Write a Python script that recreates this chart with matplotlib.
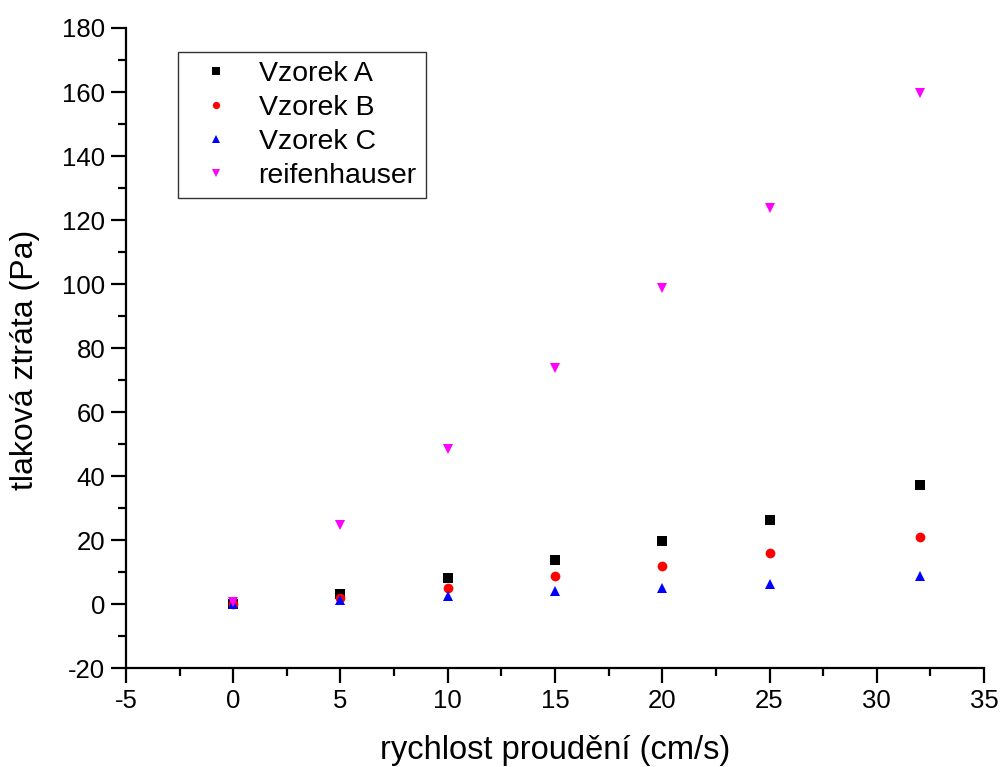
import matplotlib
matplotlib.use("Agg")
import matplotlib.pyplot as plt
from matplotlib.ticker import MultipleLocator

plt.rcParams['font.family'] = ['Liberation Sans', 'DejaVu Sans']
plt.rcParams['axes.unicode_minus'] = False

x = [0, 5, 10, 15, 20, 25, 32]
vzorek_a = [0, 3, 8, 13.7, 19.7, 26.2, 37.2]
vzorek_b = [0, 2, 5, 8.7, 11.9, 15.9, 20.9]
vzorek_c = [0, 1.2, 2.5, 4, 5, 6.2, 8.7]
reifen = [0.5, 24.7, 48.4, 73.7, 98.7, 123.7, 159.7]

series = [
    ("Vzorek A", vzorek_a, "s", "#000000"),
    ("Vzorek B", vzorek_b, "o", "#ff0000"),
    ("Vzorek C", vzorek_c, "^", "#0000ff"),
    ("reifenhauser", reifen, "v", "#ff00ff"),
]

fig = plt.figure(figsize=(10.03, 7.67), dpi=100)
ax = fig.add_axes([0.1256, 0.129, 0.8555, 0.8345])

for label, ys, m, c in series:
    ax.plot(x, ys, linestyle="none", marker=m, color=c, markersize=7,
            markeredgewidth=0, label=label)

ax.set_xlim(-5, 35)
ax.set_ylim(-20, 180)
ax.xaxis.set_major_locator(MultipleLocator(5))
ax.xaxis.set_minor_locator(MultipleLocator(2.5))
ax.yaxis.set_major_locator(MultipleLocator(20))
ax.yaxis.set_minor_locator(MultipleLocator(10))

for s in ("top", "right"):
    ax.spines[s].set_visible(False)
for s in ("left", "bottom"):
    ax.spines[s].set_linewidth(1.6)

ax.tick_params(which="major", direction="out", length=11, width=1.6, labelsize=18.5, pad=4)
ax.tick_params(which="minor", direction="out", length=6, width=1.6)

ax.set_xlabel("rychlost proudění (cm/s)", fontsize=23.5, labelpad=16)
ax.set_ylabel("tlaková ztráta (Pa)", fontsize=23)
ax.yaxis.set_label_coords(-0.1, 0.481)

leg = ax.legend(loc="upper left", bbox_to_anchor=(0.061, 0.9625), fontsize=20.5,
                markerscale=0.75, frameon=True, fancybox=False, shadow=False,
                borderpad=0.32, labelspacing=0.28, handletextpad=0.5,
                handlelength=2.0, borderaxespad=0)
leg.get_frame().set_edgecolor("black")
leg.get_frame().set_linewidth(1.0)

fig.savefig("out.png", dpi=100)
